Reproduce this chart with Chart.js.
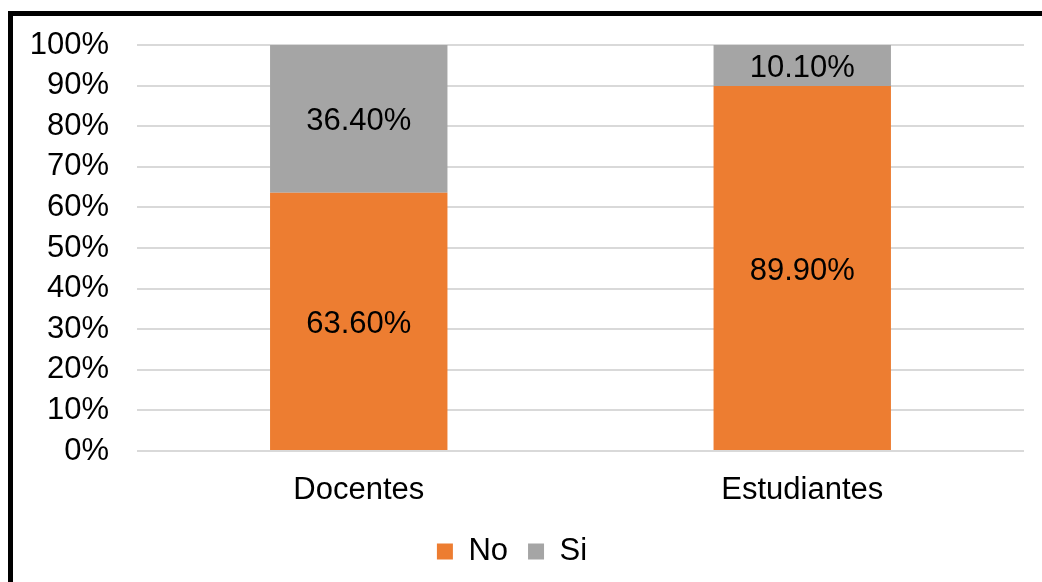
<!DOCTYPE html>
<html lang="es">
<head>
  <meta charset="UTF-8">
  <title>No / Si</title>
  <script src="https://cdn.jsdelivr.net/npm/chart.js"></script>
  <style>
    body {
      margin: 0;
      width: 1042px;
      height: 582px;
      overflow: hidden;
      background: #ffffff;
      position: relative;
    }
    .marco {
      position: absolute;
      left: 8px;
      top: 11px;
      width: 1100px;
      height: 700px;
      border-left: 5px solid #000;
      border-top: 5px solid #000;
      pointer-events: none;
    }
    .chart-box {
      position: absolute;
      left: 0;
      top: 0;
      width: 1042px;
      height: 582px;
    }
  </style>
</head>
<body>
  <div class="chart-box">
    <canvas id="grafico"></canvas>
  </div>
  <div class="marco"></div>

  <script>
    const categorias = ['Docentes', 'Estudiantes'];
    const valoresNo = [63.6, 89.9];
    const valoresSi = [36.4, 10.1];
    const ticksY = [0, 10, 20, 30, 40, 50, 60, 70, 80, 90, 100];

    const fuente = 'Liberation Sans, Arial, sans-serif';

    // etiquetas dentro de cada segmento
    const etiquetas = {
      id: 'etiquetas',
      afterDatasetsDraw(chart) {
        const ctx = chart.ctx;
        ctx.save();
        ctx.font = '31px ' + fuente;
        ctx.fillStyle = '#000';
        ctx.textAlign = 'center';
        ctx.textBaseline = 'middle';
        chart.data.datasets.forEach((ds, i) => {
          chart.getDatasetMeta(i).data.forEach((bar, j) => {
            const y = (bar.y + bar.base) / 2;
            ctx.fillText(ds.data[j].toFixed(2) + '%', bar.x, y + 3);
          });
        });
        ctx.restore();
      }
    };

    new Chart(document.getElementById('grafico'), {
      type: 'bar',
      data: {
        labels: categorias,
        datasets: [
          { label: 'No', data: valoresNo, backgroundColor: '#ED7D31', barPercentage: 0.8, categoryPercentage: 0.5 },
          { label: 'Si', data: valoresSi, backgroundColor: '#A5A5A5', barPercentage: 0.8, categoryPercentage: 0.5 }
        ]
      },
      options: {
        responsive: true,
        maintainAspectRatio: false,
        animation: false,
        layout: { padding: { top: 45, right: 18, bottom: 5, left: 0 } },
        plugins: {
          tooltip: { enabled: false },
          legend: {
            position: 'bottom',
            labels: {
              boxWidth: 16,
              boxHeight: 16,
              padding: 20,
              color: '#000',
              font: { family: fuente, size: 31 }
            }
          }
        },
        scales: {
          x: {
            stacked: true,
            afterFit(scale) { scale.height = 65; },
            grid: { display: false, drawTicks: false },
            border: { display: false },
            ticks: { color: '#000', padding: 21, font: { family: fuente, size: 31 } }
          },
          y: {
            stacked: true,
            min: 0,
            max: 100,
            afterFit(scale) { scale.width = 137; scale.paddingTop = 0; scale.paddingBottom = 0; },
            afterBuildTicks(scale) { scale.ticks = ticksY.map(v => ({ value: v })); },
            grid: { color: '#d9d9d9', lineWidth: 2, drawTicks: false },
            border: { display: false },
            ticks: {
              color: '#000',
              padding: 28,
              font: { family: fuente, size: 31 },
              callback: v => v + '%'
            }
          }
        }
      },
      plugins: [etiquetas]
    });
  </script>
</body>
</html>
